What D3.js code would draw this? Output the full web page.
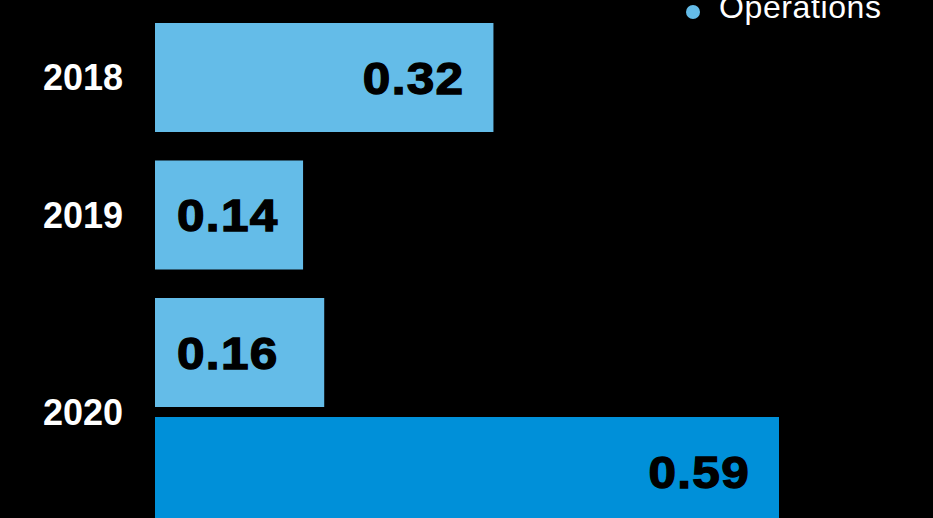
<!DOCTYPE html>
<html>
<head>
<meta charset="utf-8">
<script src="https://cdn.jsdelivr.net/npm/d3@7"></script>
<style>
  html, body { margin: 0; padding: 0; background: #000; }
  svg { display: block; }
</style>
</head>
<body>
<script>
// ---- data ----
const categories = ["2018", "2019", "2020"];
const operations = [0.32, 0.14, 0.16];
const otherSeries = [null, null, 0.59];
const legendLabels = ["Operations"];

// ---- layout ----
const W = 933, H = 518;
const barH = 109, innerGap = 10, outerGap = 28.5, topY = 23;
const colors = { ops: "#64bce8", other: "#0090d9" };

const svg = d3.select("body").append("svg").attr("width", W).attr("height", H);
svg.append("rect").attr("width", W).attr("height", H).attr("fill", "#000");

const x = d3.scaleLinear().domain([0, 0.59]).range([155, 779]);

// build bar records
const bars = [];
const groups = [];
let yPos = topY;
categories.forEach((c, i) => {
  const start = yPos;
  const items = [];
  if (operations[i] != null) items.push({ cat: c, v: operations[i], s: "ops" });
  if (otherSeries[i] != null) items.push({ cat: c, v: otherSeries[i], s: "other" });
  items.forEach((d, k) => {
    d.y = yPos;
    bars.push(d);
    yPos += barH + (k < items.length - 1 ? innerGap : 0);
  });
  groups.push({ cat: c, y0: start, y1: yPos });
  yPos += outerGap;
});

svg.selectAll("rect.bar").data(bars).enter().append("rect")
  .attr("class", "bar")
  .attr("x", x(0))
  .attr("y", d => d.y)
  .attr("width", d => x(d.v) - x(0))
  .attr("height", barH)
  .attr("fill", d => colors[d.s]);

const fmt = d3.format(".2f");
const valFont = 45;
const small = d => (x(d.v) - x(0) < 200);
svg.selectAll("text.val").data(bars).enter().append("text")
  .attr("class", "val")
  .attr("transform", d => `translate(${small(d) ? x(0) + 22 : x(d.v) - 29},${d.y + barH / 2 + valFont * 0.36}) scale(1.1,1)`)
  .attr("text-anchor", d => small(d) ? "start" : "end")
  .attr("font-family", "'Liberation Sans', Arial, Helvetica, sans-serif")
  .attr("font-weight", "bold")
  .attr("font-size", valFont)
  .attr("letter-spacing", "1.2px")
  .attr("stroke", "#000")
  .attr("stroke-width", 1.3)
  .attr("fill", "#000")
  .text(d => fmt(d.v));

const catFont = 36;
svg.selectAll("text.cat").data(groups).enter().append("text")
  .attr("class", "cat")
  .attr("x", 123)
  .attr("y", d => (d.y0 + d.y1) / 2 + catFont * 0.36)
  .attr("text-anchor", "end")
  .attr("font-family", "'Liberation Sans', Arial, Helvetica, sans-serif")
  .attr("font-weight", "bold")
  .attr("font-size", catFont)
  .attr("fill", "#fff")
  .text(d => d.cat);

// legend
const lg = svg.append("g");
lg.append("circle").attr("cx", 693).attr("cy", 12).attr("r", 7).attr("fill", colors.ops);
lg.append("text")
  .attr("x", 719).attr("y", 18)
  .attr("font-family", "'Liberation Sans', Arial, Helvetica, sans-serif")
  .attr("font-size", 32)
  .attr("letter-spacing", "0.6px")
  .attr("fill", "#fff")
  .text(legendLabels[0]);
</script>
</body>
</html>
